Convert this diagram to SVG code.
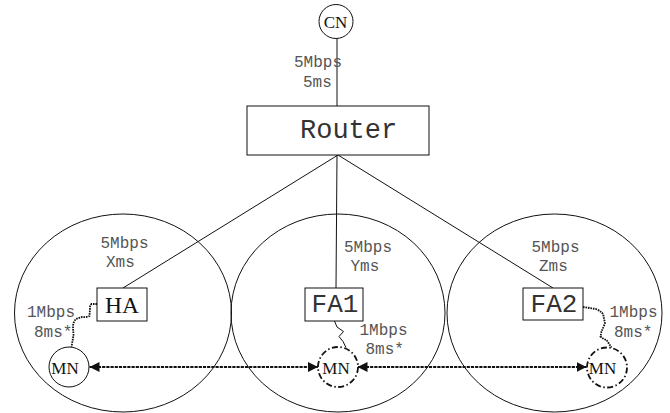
<svg xmlns="http://www.w3.org/2000/svg" width="670" height="413" viewBox="0 0 670 413">
  <style>
    .cell { fill: none; stroke: #111; stroke-width: 1; }
    .box { fill: #fff; stroke: #111; stroke-width: 1; }
    .link { fill: none; stroke: #111; stroke-width: 1; }
    .wireless { fill: none; stroke: #111; stroke-width: 1.8; stroke-dasharray: 1.6 0.9; }
    .move { fill: none; stroke: #111; stroke-width: 1.8; stroke-dasharray: 3.2 1; }
    .lbl { font-family: "Liberation Mono", "Courier New", monospace; font-size: 16px; fill: #555; }
    .mono { font-family: "Liberation Mono", "Courier New", monospace; fill: #333; }
    .serif { font-family: "Liberation Serif", "Times New Roman", serif; fill: #111; text-anchor: middle; }
  </style>
  <defs>
    <marker id="arrow" viewBox="0 0 10 10" refX="10" refY="5" markerWidth="10" markerHeight="10" markerUnits="userSpaceOnUse" orient="auto-start-reverse">
      <path d="M0,0 L10,5 L0,10 z" fill="#111"/>
    </marker>
  </defs>

  <!-- coverage cells -->
  <g id="cells">
    <ellipse class="cell" cx="123" cy="313" rx="108.5" ry="99"/>
    <ellipse class="cell" cx="338" cy="313" rx="107" ry="99"/>
    <ellipse class="cell" cx="554.5" cy="313" rx="107.5" ry="99"/>
  </g>

  <!-- connectors -->
  <g id="connectors">
    <line class="link" x1="337" y1="38.5" x2="337" y2="106"/>
    <line class="link" x1="338" y1="155" x2="123" y2="288"/>
    <line class="link" x1="337" y1="155" x2="336" y2="288"/>
    <line class="link" x1="338" y1="155" x2="553" y2="288"/>
    <!-- wireless hops to the mobile node -->
    <path class="wireless" d="M97,304 L91.5,304 Q89.5,306 90,309 L89.5,316 Q86,317.5 82,317 L76,319 Q73,322 73,327 L73.5,335 Q72.5,341 71.5,347"/>
    <path class="link" stroke-width="1.3" d="M334.5,321 L337,327 L343.5,331.5 L339,336.5 L343,341.5 L346,347.5"/>
    <path class="wireless" d="M583,307 L596,309 Q603,312 603.5,316 L605,323.5 Q603,328 601.5,331.5 L600.5,336.5 Q603,339 606.5,340 L611.5,347.5"/>
    <!-- handover movement -->
    <line class="move" x1="89.5" y1="367" x2="318" y2="367" marker-start="url(#arrow)" marker-end="url(#arrow)"/>
    <line class="move" x1="357.5" y1="367" x2="586.5" y2="367" marker-start="url(#arrow)" marker-end="url(#arrow)"/>
  </g>

  <g id="cn">
    <circle class="box" cx="336" cy="21.5" r="17"/>
    <text class="serif" x="335.5" y="28" font-size="17">CN</text>
  </g>
  <text class="lbl" x="294" y="67">5Mbps</text>
  <text class="lbl" x="303" y="87">5ms</text>

  <g id="router">
    <rect class="box" x="247" y="106" width="182" height="49"/>
    <text class="mono" x="300" y="138" font-size="27" fill="#222">Router</text>
  </g>

  <g id="ha">
    <rect class="box" x="97" y="288" width="50" height="33"/>
    <text class="serif" x="122" y="313" font-size="23.5">HA</text>
  </g>
  <text class="lbl" x="100.5" y="248">5Mbps</text>
  <text class="lbl" x="106" y="267">Xms</text>
  <text class="lbl" x="27" y="317">1Mbps</text>
  <text class="lbl" x="34" y="337">8ms*</text>

  <g id="fa1">
    <rect class="box" x="305" y="288" width="58" height="33"/>
    <text class="mono" x="335" y="312" font-size="26" text-anchor="middle">FA1</text>
  </g>
  <text class="lbl" x="344" y="252">5Mbps</text>
  <text class="lbl" x="350.5" y="271">Yms</text>
  <text class="lbl" x="359.5" y="335">1Mbps</text>
  <text class="lbl" x="365.5" y="354">8ms*</text>

  <g id="fa2">
    <rect class="box" x="523" y="288" width="60" height="32"/>
    <text class="mono" x="554" y="312" font-size="26" text-anchor="middle">FA2</text>
  </g>
  <text class="lbl" x="531.5" y="252">5Mbps</text>
  <text class="lbl" x="539" y="271">Zms</text>
  <text class="lbl" x="609.5" y="317">1Mbps</text>
  <text class="lbl" x="614" y="337">8ms*</text>

  <g id="mn-home">
    <circle class="box" cx="69" cy="367" r="20"/>
    <text class="serif" x="65" y="374" font-size="17">MN</text>
  </g>
  <g id="mn-fa1">
    <circle cx="338" cy="367" r="20" fill="#fff" stroke="#111" stroke-width="1.8" stroke-dasharray="6 2.5 1.5 2.5"/>
    <text class="serif" x="336" y="374" font-size="17">MN</text>
  </g>
  <g id="mn-fa2">
    <circle cx="607" cy="367.5" r="20" fill="#fff" stroke="#111" stroke-width="1.8" stroke-dasharray="6 2.5 1.5 2.5"/>
    <text class="serif" x="602.5" y="374" font-size="17">MN</text>
  </g>
</svg>
